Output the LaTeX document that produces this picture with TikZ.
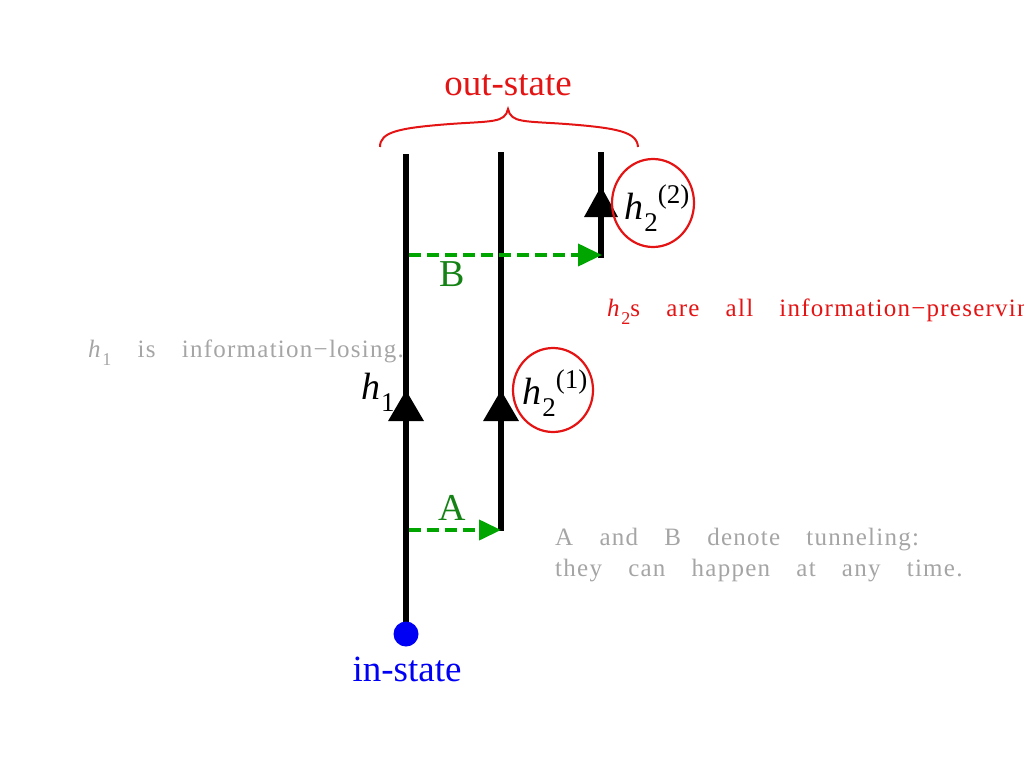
\documentclass[tikz,border=0pt]{standalone}
\usepackage{fontspec}
\setmainfont{Liberation Serif}
\newfontfamily\notefont[LetterSpace=5]{Liberation Serif}
\usetikzlibrary{arrows.meta,shapes.geometric}
\definecolor{lred}{RGB}{228,20,20}
\definecolor{lgreen}{RGB}{0,165,0}
\definecolor{tgreen}{RGB}{20,130,20}
\definecolor{lblue}{RGB}{0,0,245}
\definecolor{lgray}{RGB}{165,165,165}
\newcommand{\hlabel}[3]{\textit{h}\hspace{0.02em}\raisebox{-0.32em}{\fontsize{#1}{#1}\selectfont #2}#3}
\begin{document}
\begin{tikzpicture}[x=1pt,y=-1pt,
  wline/.style={line width=6.5pt,draw=black},
  tun/.style={line width=4pt,draw=lgreen,dash pattern=on 12pt off 6pt},
  lbl/.style={inner sep=0pt,anchor=base},
  note/.style={inner sep=0pt,anchor=base west,text=lgray,font=\notefont\fontsize{25}{30}\selectfont},
  ring/.style={draw=lred,line width=2.2pt,ellipse,inner sep=0pt}]
\useasboundingbox (0,0) rectangle (1024,768);
\clip (0,0) rectangle (1024,768);
% coordinates
\coordinate (L1bot) at (406,622);
\coordinate (L1mid) at (406,390);
\coordinate (L1top) at (406,154);
\coordinate (L2bot) at (501,531);
\coordinate (L2mid) at (501,390);
\coordinate (L2top) at (501,152);
\coordinate (L3bot) at (601,258);
\coordinate (L3mid) at (601,186);
\coordinate (L3top) at (601,152);
\coordinate (Bs) at (409,255);
\coordinate (Be) at (602,255);
\coordinate (As) at (409,530);
\coordinate (Ae) at (501,530);
% world lines
\draw[wline] (L1bot) -- (L1top);
\draw[wline,-{Triangle[length=31pt,width=34pt]}] (L1bot) -- (L1mid);
\draw[wline] (L2bot) -- (L2top);
\draw[wline,-{Triangle[length=31pt,width=34pt]}] (L2bot) -- (L2mid);
\draw[wline] (L3bot) -- (L3top);
\draw[wline,-{Triangle[length=31pt,width=32pt]}] (L3bot) -- (L3mid);
% tunneling arrows
\draw[tun,-{Triangle[length=24pt,width=22pt]}] (Bs) -- (Be);
\draw[tun,-{Triangle[length=22pt,width=20pt]}] (As) -- (Ae);
\node[lbl,text=tgreen,font=\fontsize{38}{40}\selectfont] (Blab) at (452,286) {B};
\node[lbl,text=tgreen,font=\fontsize{38}{40}\selectfont] (Alab) at (452,520) {A};
% in-state
\node[circle,fill=lblue,inner sep=0pt,minimum size=25pt] (instate) at (406,634) {};
\node[lbl,text=lblue,font=\fontsize{37}{40}\selectfont] (inlab) at (407,681) {in-state};
% out-state brace
\draw[lred,line width=2pt] (380,147) .. controls (380,132) and (398,128) .. (450,124)
   .. controls (492,121) and (505,123) .. (508,109)
   .. controls (511,123) and (524,121) .. (566,124)
   .. controls (618,128) and (637,132) .. (638,147);
\node[lbl,text=lred,font=\fontsize{37}{40}\selectfont] (outlab) at (508,95) {out-state};
% h labels
\node[lbl,font=\fontsize{38}{40}\selectfont] (h1) at (378,399) {\hlabel{27}{1}{}};
\node[ring,minimum width=80pt,minimum height=84pt] (c1) at (553,390) {};
\node[lbl,font=\fontsize{38}{40}\selectfont] (h21) at (555,404) {\hlabel{27}{2}{\raisebox{0.42em}{\fontsize{27}{27}\selectfont (1)}}};
\node[ring,minimum width=82pt,minimum height=88pt] (c2) at (653,203) {};
\node[lbl,font=\fontsize{38}{40}\selectfont] (h22) at (657,219) {\hlabel{27}{2}{\raisebox{0.42em}{\fontsize{27}{27}\selectfont (2)}}};
% notes
\node[note] (n1) at (88,357) {\hlabel{18}{1}{}\hspace{1.05em}is\hspace{1.05em}information−losing.};
\node[note,text=lred] (n2) at (607,316) {\hlabel{18}{2}{s}\hspace{1.05em}are\hspace{1.05em}all\hspace{1.05em}information−preserving};
\node[note] (n3) at (555,545) {A\hspace{1.05em}and\hspace{1.05em}B\hspace{1.05em}denote\hspace{1.05em}tunneling:};
\node[note] (n4) at (555,576) {they\hspace{1.05em}can\hspace{1.05em}happen\hspace{1.05em}at\hspace{1.05em}any\hspace{1.05em}time.};
\end{tikzpicture}
\end{document}
